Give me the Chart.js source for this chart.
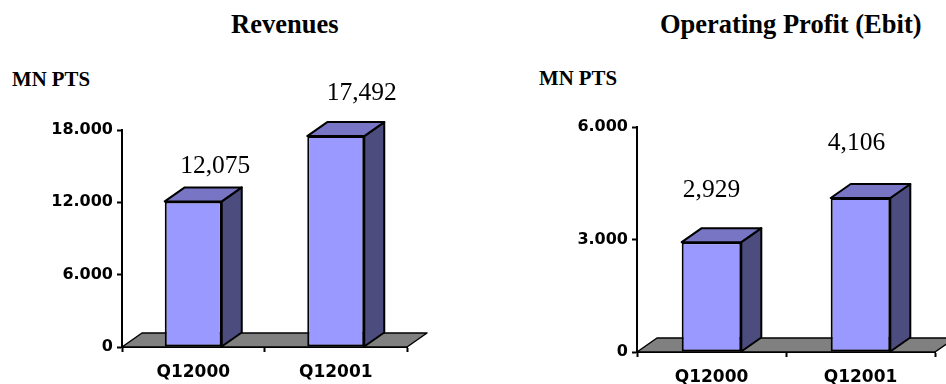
<!DOCTYPE html>
<html>
<head>
<meta charset="utf-8">
<script src="https://cdn.jsdelivr.net/npm/chart.js@4/dist/chart.umd.min.js"></script>
<style>
  html, body { margin: 0; padding: 0; background: #fff; }
  #stage { position: relative; width: 946px; height: 384px; overflow: hidden; }
  canvas { position: absolute; top: 0; }
  .title, .unit { position: absolute; font-family: "Liberation Serif", "Times New Roman", serif; font-weight: bold; line-height: 1; white-space: nowrap; color: #000; }
  .title { font-size: 26.5px; }
  .unit { font-size: 20.8px; }
</style>
</head>
<body>
<div id="stage">
  <div class="title" style="left:231px; top:11px;">Revenues</div>
  <div class="title" style="left:660px; top:11px;">Operating Profit (Ebit)</div>
  <div class="unit" style="left:12px; top:69px;">MN PTS</div>
  <div class="unit" style="left:539px; top:68px;">MN PTS</div>
  <canvas id="revChart" width="473" height="384" style="left:0;"></canvas>
  <canvas id="ebitChart" width="473" height="384" style="left:473px;"></canvas>
</div>
<script>
// Quarterly figures, millions of pesetas
const categories = ['Q12000', 'Q12001'];
const revenues = [12075, 17492];
const ebit = [2929, 4106];
const revenueTicks = [0, 6000, 12000, 18000];
const ebitTicks = [0, 3000, 6000];

const FRONT = '#9999FF';
const TOP = '#7876C4';
const SIDE = '#4C4C7F';
const FLOOR = '#808080';
const DEPTH_X = 20;
const DEPTH_Y = 14;

function groupDigits(v, sep) {
  return String(v).replace(/\B(?=(\d{3})+(?!\d))/g, sep);
}

function poly(ctx, pts, fill) {
  ctx.beginPath();
  ctx.moveTo(pts[0][0], pts[0][1]);
  for (let i = 1; i < pts.length; i++) ctx.lineTo(pts[i][0], pts[i][1]);
  ctx.closePath();
  ctx.fillStyle = fill;
  ctx.fill();
  ctx.stroke();
}

// Draws the grey floor under the bars, the extruded top/side faces and the value labels
const bar3d = {
  id: 'bar3d',
  beforeDatasetsDraw(chart) {
    const ctx = chart.ctx;
    const a = chart.chartArea;
    ctx.save();
    ctx.strokeStyle = '#000';
    ctx.lineWidth = 1.5;
    ctx.lineJoin = 'round';
    poly(ctx, [[a.left, a.bottom], [a.right, a.bottom], [a.right + DEPTH_X, a.bottom - DEPTH_Y], [a.left + DEPTH_X, a.bottom - DEPTH_Y]], FLOOR);
    ctx.restore();
  },
  afterDatasetsDraw(chart, args, opts) {
    const ctx = chart.ctx;
    const meta = chart.getDatasetMeta(0);
    const values = chart.data.datasets[0].data;
    ctx.save();
    ctx.strokeStyle = '#000';
    ctx.lineWidth = 2;
    ctx.lineJoin = 'round';
    meta.data.forEach((bar) => {
      const x1 = bar.x - bar.width / 2;
      const x2 = bar.x + bar.width / 2;
      const yt = bar.y;
      const yb = bar.base;
      poly(ctx, [[x2, yt], [x2 + DEPTH_X, yt - DEPTH_Y], [x2 + DEPTH_X, yb - DEPTH_Y], [x2, yb]], SIDE);
      poly(ctx, [[x1, yt], [x1 + DEPTH_X, yt - DEPTH_Y], [x2 + DEPTH_X, yt - DEPTH_Y], [x2, yt]], TOP);
    });
    ctx.fillStyle = '#000';
    ctx.font = '25.5px "Liberation Serif", "Times New Roman", serif';
    ctx.textAlign = 'center';
    ctx.textBaseline = 'alphabetic';
    meta.data.forEach((bar, i) => {
      const off = opts.labelOffsets[i];
      ctx.fillText(groupDigits(values[i], ','), bar.x + off[0], bar.y + off[1]);
    });
    ctx.restore();
  }
};

function makeChart(id, values, ticks, box, labelOffsets) {
  const W = 473, H = 384;
  return new Chart(document.getElementById(id), {
    type: 'bar',
    data: {
      labels: categories,
      datasets: [{
        data: values,
        backgroundColor: FRONT,
        borderColor: '#000',
        borderWidth: 2,
        borderSkipped: false,
        barPercentage: 0.4,
        categoryPercentage: 1.0
      }]
    },
    plugins: [bar3d],
    options: {
      responsive: false,
      animation: false,
      devicePixelRatio: 1,
      layout: { padding: { top: box.top, right: W - box.right, left: 0, bottom: 0 } },
      plugins: {
        legend: { display: false },
        tooltip: { enabled: false },
        bar3d: { labelOffsets: labelOffsets }
      },
      scales: {
        x: {
          offset: true,
          afterFit(scale) { scale.height = H - box.bottom; },
          border: { display: true, color: '#000', width: 2 },
          grid: { offset: true, drawOnChartArea: false, drawTicks: true, tickLength: 5, tickColor: '#000', tickWidth: 2, color: '#000' },
          ticks: { color: '#000', padding: 10, font: { family: '"DejaVu Sans"', weight: 'bold', size: 17 } }
        },
        y: {
          min: ticks[0],
          max: ticks[ticks.length - 1],
          afterFit(scale) { scale.width = box.left; },
          afterBuildTicks(scale) { scale.ticks = ticks.map(v => ({ value: v })); },
          border: { display: true, color: '#000', width: 2 },
          grid: { drawOnChartArea: false, drawTicks: true, tickLength: 5, tickColor: '#000', tickWidth: 2 },
          ticks: {
            color: '#000',
            padding: 4,
            font: { family: '"DejaVu Sans"', weight: 'bold', size: 16 },
            callback: (v) => groupDigits(v, '.')
          }
        }
      }
    }
  });
}

makeChart('revChart', revenues, revenueTicks, { left: 122, right: 407, top: 130, bottom: 347 }, [[22, -28], [26, -36]]);
makeChart('ebitChart', ebit, ebitTicks, { left: 164, right: 462, top: 127, bottom: 352 }, [[0, -45], [-4, -48]]);
</script>
</body>
</html>
